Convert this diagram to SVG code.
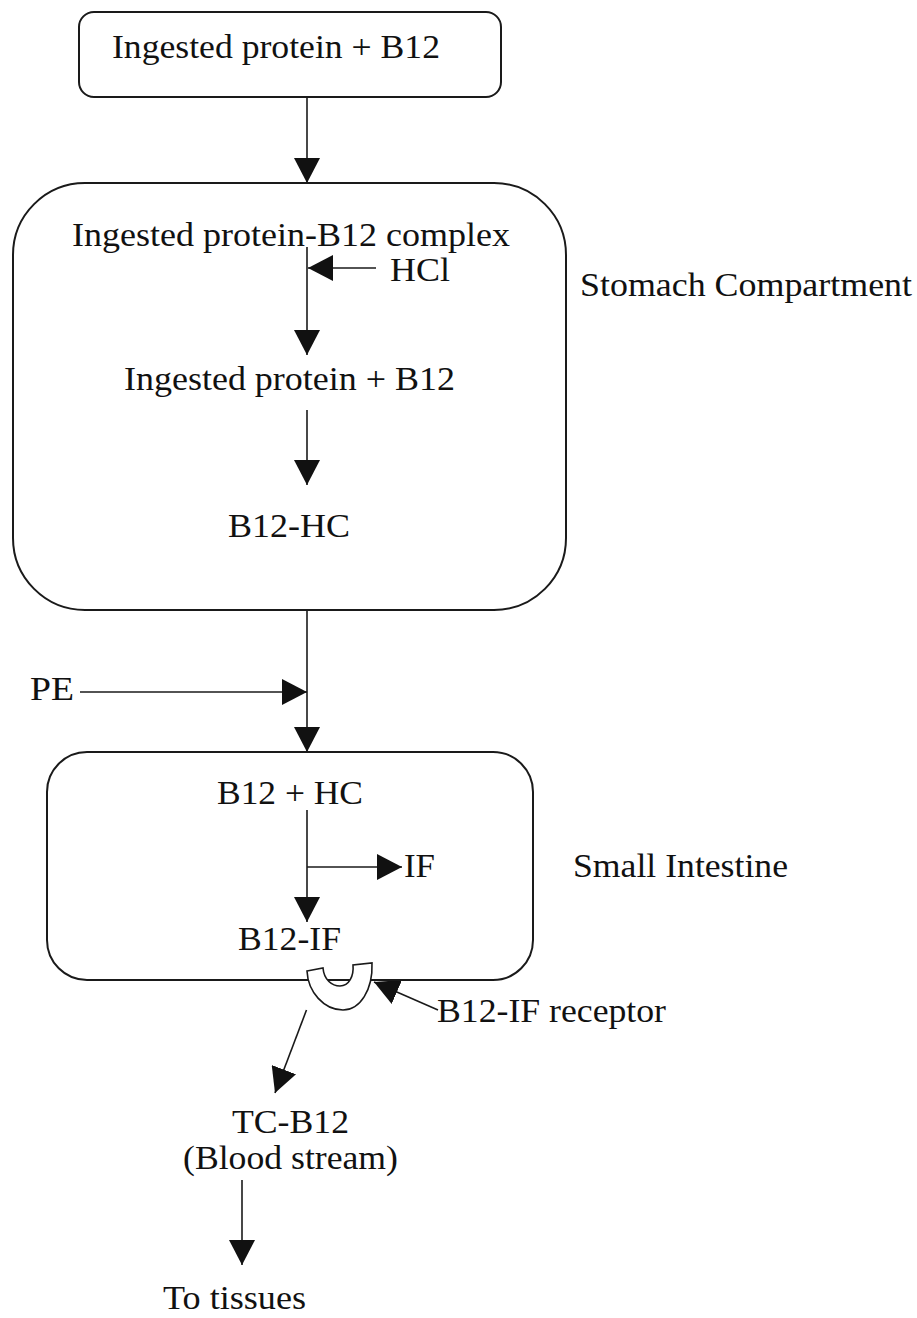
<svg xmlns="http://www.w3.org/2000/svg" width="917" height="1318" viewBox="0 0 917 1318">
<defs>
<style>
.box{fill:none;stroke:#1a1a1a;stroke-width:2}
.ln{fill:none;stroke:#1a1a1a;stroke-width:1.6;marker-end:url(#ah)}
.t{font-family:"Liberation Serif","Times New Roman",serif;font-size:33px;fill:#111}
</style>
<marker id="ah" markerUnits="userSpaceOnUse" markerWidth="26" markerHeight="26" refX="25" refY="13" orient="auto">
<path d="M0,0 L25,13 L0,26 Z" fill="#111"/>
</marker>
</defs>
<rect width="917" height="1318" fill="#fff"/>
<g id="connectors">
<line class="ln" x1="307" y1="97" x2="307" y2="183"/>
<line class="ln" x1="307" y1="247" x2="307" y2="355"/>
<line class="ln" x1="376" y1="268" x2="308" y2="268"/>
<line class="ln" x1="307" y1="410" x2="307" y2="485"/>
<line class="ln" x1="307" y1="610" x2="307" y2="752"/>
<line class="ln" x1="80" y1="692" x2="307" y2="692"/>
<line class="ln" x1="307" y1="810" x2="307" y2="922"/>
<line class="ln" x1="307" y1="867" x2="402" y2="867"/>
<line class="ln" x1="438" y1="1010" x2="374" y2="982"/>
<line class="ln" x1="306.5" y1="1010" x2="275" y2="1093"/>
<line class="ln" x1="242" y1="1180" x2="242" y2="1265"/>
</g>
<g id="top">
<rect class="box" x="79" y="12" width="422" height="85" rx="15" ry="15"/>
<text class="t" x="112" y="58" textLength="328" lengthAdjust="spacingAndGlyphs">Ingested protein + B12</text>
</g>
<g id="stomach">
<rect class="box" x="13" y="183" width="553" height="427" rx="72" ry="72"/>
<text class="t" x="72" y="246" textLength="438" lengthAdjust="spacingAndGlyphs">Ingested protein-B12 complex</text>
<text class="t" x="124" y="390" textLength="331" lengthAdjust="spacingAndGlyphs">Ingested protein + B12</text>
<text class="t" x="228" y="537" textLength="122" lengthAdjust="spacingAndGlyphs">B12-HC</text>
</g>
<g id="hcl"><text class="t" x="390" y="281" textLength="60" lengthAdjust="spacingAndGlyphs">HCl</text></g>
<g id="stomach-label"><text class="t" x="580" y="296" textLength="332" lengthAdjust="spacingAndGlyphs">Stomach Compartment</text></g>
<g id="pe"><text class="t" x="30" y="700" textLength="44" lengthAdjust="spacingAndGlyphs">PE</text></g>
<g id="intestine">
<rect class="box" x="47" y="752" width="486" height="228" rx="40" ry="40"/>
<text class="t" x="217" y="804" textLength="146" lengthAdjust="spacingAndGlyphs">B12 + HC</text>
<text class="t" x="238" y="950" textLength="103" lengthAdjust="spacingAndGlyphs">B12-IF</text>
</g>
<g id="if"><text class="t" x="404" y="877" textLength="31" lengthAdjust="spacingAndGlyphs">IF</text></g>
<g id="intestine-label"><text class="t" x="573" y="877" textLength="215" lengthAdjust="spacingAndGlyphs">Small Intestine</text></g>
<g id="receptor">
<path d="M307,971 L323,968 C324,980 332,986 340,986 C349,986 354,976 353,965 L372,963 C373,990 360,1010 343,1010 C324,1010 308,992 307,971 Z" fill="#fff" stroke="#1a1a1a" stroke-width="1.6"/>
</g>
<g id="receptor-label"><text class="t" x="437" y="1022" textLength="229" lengthAdjust="spacingAndGlyphs">B12-IF receptor</text></g>
<g id="tc">
<text class="t" x="232" y="1133" textLength="117" lengthAdjust="spacingAndGlyphs">TC-B12</text>
<text class="t" x="183" y="1169" textLength="215" lengthAdjust="spacingAndGlyphs">(Blood stream)</text>
</g>
<g id="tissues"><text class="t" x="163" y="1309" textLength="143" lengthAdjust="spacingAndGlyphs">To tissues</text></g>
</svg>
